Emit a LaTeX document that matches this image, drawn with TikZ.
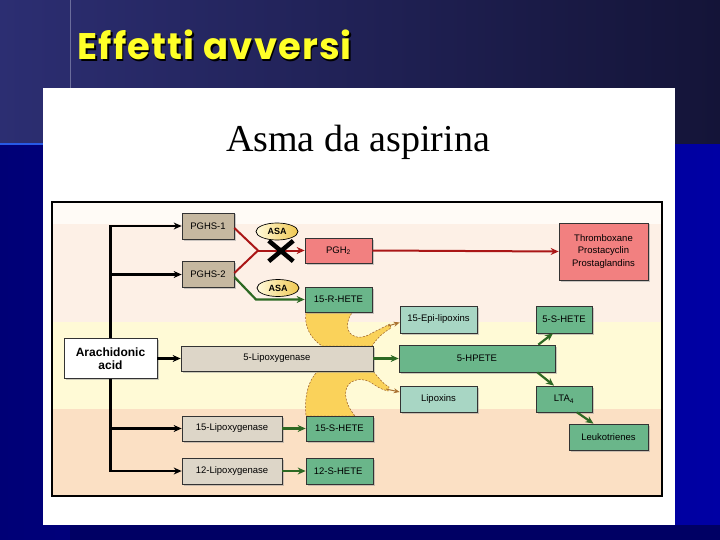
\documentclass[tikz,border=0pt]{standalone}
\usepackage{fontspec}
\setmainfont{Liberation Serif}
\newfontfamily\boxfont{Liberation Sans}
\newfontfamily\slidefont{Poppins}[LetterSpace=3]
\usetikzlibrary{arrows.meta,shapes.geometric,shapes.misc,shadows}
\definecolor{slidetop}{RGB}{44,46,114}
\definecolor{slidetopR}{RGB}{20,20,56}
\definecolor{slidelow}{RGB}{0,0,118}
\definecolor{slidelowR}{RGB}{0,0,164}
\definecolor{slidedeep}{RGB}{0,0,100}
\definecolor{slideline}{RGB}{40,90,230}
\definecolor{slideyellow}{RGB}{255,255,40}
\definecolor{bandtop}{RGB}{255,251,246}
\definecolor{bandpink}{RGB}{253,240,230}
\definecolor{bandyellow}{RGB}{255,250,214}
\definecolor{bandpeach}{RGB}{251,224,196}
\definecolor{tanfill}{RGB}{198,184,160}
\definecolor{greyfill}{RGB}{221,214,200}
\definecolor{redfill}{RGB}{242,128,128}
\definecolor{greenfill}{RGB}{106,182,138}
\definecolor{palefill}{RGB}{168,214,196}
\definecolor{redarrow}{RGB}{170,22,22}
\definecolor{greenarrow}{RGB}{45,105,35}
\definecolor{flowyellow}{RGB}{250,210,90}
\definecolor{flowedge}{RGB}{150,90,40}
\definecolor{asalight}{RGB}{255,250,220}
\definecolor{asadark}{RGB}{240,200,80}

\begin{document}
\begin{tikzpicture}[x=1pt, y=-1pt,
  box/.style={draw=black!80, line width=0.7pt, align=center, inner sep=1pt,
    font=\boxfont\fontsize{9.5}{12.5}\selectfont,
    drop shadow={shadow xshift=1.5pt, shadow yshift=-1.5pt, fill=black!40, opacity=0.5}},
  tanbox/.style={box, fill=tanfill},
  greybox/.style={box, fill=greyfill},
  redbox/.style={box, fill=redfill},
  greenbox/.style={box, fill=greenfill},
  palebox/.style={box, fill=palefill},
  blackline/.style={line width=2.4pt, -{Stealth[length=8pt,width=7pt]}},
  redline/.style={redarrow, line width=2pt},
  greenline/.style={greenarrow, line width=2.2pt},
  tip/.style={-{Stealth[length=8pt,width=7pt]}},
  asa/.style={ellipse, draw=black, line width=0.7pt, left color=asalight, right color=asadark,
    minimum width=42, minimum height=17, inner sep=0pt,
    font=\boxfont\bfseries\fontsize{9}{10}\selectfont}]
  \useasboundingbox (0,0) rectangle (720,540);

  % Slide
  \shade[left color=slidetop, right color=slidetopR] (0,0) rectangle (720,145);
  \shade[left color=slidelow, right color=slidelowR] (0,145) rectangle (720,540);
  \fill[slidedeep] (70,525) rectangle (720,540);
  \draw[slideline, line width=1.5pt] (0,144) -- (43,144);
  \draw[slidetop!70!white, line width=0.8pt] (70,0) -- (70,145);
  \fill[white] (43,88) rectangle (675,525);
  \node[text=black, font=\slidefont\bfseries\fontsize{37}{40}\selectfont, anchor=west]
    (titleshade) at (75.5,46.5) {Effetti avversi};
  \node[text=slideyellow, font=\slidefont\bfseries\fontsize{37}{40}\selectfont, anchor=west]
    (title) at (74,45) {Effetti avversi};
  \node[font=\fontsize{38}{40}\selectfont] (subtitle) at (358,142) {Asma da aspirina};

  % Bands
  \fill[bandtop] (52,202) rectangle (662,224);
  \fill[bandpink] (52,224) rectangle (662,322);
  \fill[bandyellow] (52,322) rectangle (662,409);
  \fill[bandpeach] (52,409) rectangle (662,496);
  \draw[line width=1.3pt] (52,202) rectangle (662,496);

  % Lipoxin flow
  \filldraw[fill=flowyellow, draw=flowedge, line width=0.5pt, dash pattern=on 2pt off 1.5pt]
    (306,312) -- (353,312) .. controls (347,318) and (345,330) .. (352,335)
    .. controls (357,339) and (366,337) .. (372,333)
    .. controls (380,329) and (386,326) .. (390,324) -- (391,328)
    .. controls (384,332) and (377,338) .. (372,346) -- (322,346)
    .. controls (310,338) and (304,326) .. (306,312) -- cycle;
  \filldraw[fill=flowyellow, draw=flowedge, line width=0.5pt, dash pattern=on 2pt off 1.5pt]
    (318,371) -- (373,371) .. controls (378,377) and (382,383) .. (389,387) -- (388,391)
    .. controls (382,390) and (376,386) .. (370,382)
    .. controls (360,377) and (348,380) .. (346,390)
    .. controls (344,400) and (350,410) .. (355,416) -- (306,416)
    .. controls (304,398) and (308,380) .. (318,371) -- cycle;

  % Boxes
  \foreach \name/\x/\y/\w/\h/\kind/\txt in {
    pghs1/208/226/52/26/tanbox/{PGHS-1},
    pghs2/208/274.5/52/26/tanbox/{PGHS-2},
    pgh2/338.5/250.5/67/25/redbox/{PGH\textsubscript{2}},
    thromb/603.5/251.5/89/57/redbox/{Thromboxane\\Prostacyclin\\Prostaglandins},
    rhete/338.5/299.5/67/25/greenbox/{15-R-HETE},
    epi/438.5/319.5/77/27/palebox/{15-Epi-lipoxins},
    shete/564/319.5/56/27/greenbox/{5-S-HETE},
    lox5/277/358.5/192/25/greybox/{5-Lipoxygenase},
    hpete/477/358.5/156/27/greenbox/{5-HPETE},
    lipox/438.5/399/77/26/palebox/{Lipoxins},
    lta4/564/399/56/26/greenbox/{LTA\textsubscript{4}},
    leuko/608.5/437/79/26/greenbox/{Leukotrienes},
    lox15/232/428.5/100/25/greybox/{15-Lipoxygenase},
    shete15/339.5/428.5/67/25/greenbox/{15-S-HETE},
    lox12/232/471/100/26/greybox/{12-Lipoxygenase},
    shete12/339.5/471/67/26/greenbox/{12-S-HETE}
  }{
    \node[\kind, minimum width=\w, minimum height=\h] (\name) at (\x,\y) {\txt};
  }
  \node[box, fill=white, minimum width=93, minimum height=40, inner sep=0pt,
    font=\boxfont\bfseries\fontsize{12}{13}\selectfont] (aa) at (110.5,358.5) {Arachidonic\\acid};

  % Arachidonic acid
  \draw[blackline] (aa.north) |- (pghs1.west);
  \draw[blackline] (aa.north) |- (pghs2.west);
  \draw[blackline] (aa.east) -- (lox5.west);
  \draw[blackline] (aa.south) |- (lox15.west);
  \draw[blackline] (aa.south) |- (lox12.west);

  % Cyclooxygenase
  \coordinate (fork) at (258,250.5);
  \coordinate (bend) at (256,299.5);
  \draw[redline] ([yshift=-2pt]pghs1.east) -- (fork);
  \draw[redline] ([yshift=1.5pt]pghs2.east) -- (fork);
  \draw[redline, tip] (fork) -- (pgh2.west);
  \draw[redline, tip] (pgh2.east) -- (thromb.west);
  \draw[greenline, tip] ([yshift=-2.5pt]pghs2.east) -- (bend) -- (rhete.west);
  \node[asa] (asa1) at (277,231.5) {ASA};
  \node[asa] (asa2) at (278,288) {ASA};
  \node[cross out, draw=black, line width=4.5pt, minimum width=20, minimum height=16,
    inner sep=0pt] (block) at (281,251) {};

  % Lipoxygenases
  \draw[greenline, tip] (lox5.east) -- (hpete.west);
  \draw[greenline, tip] ([xshift=-17pt]hpete.north east) -- ([xshift=-11pt]shete.south);
  \draw[greenline, tip] ([xshift=-18pt]hpete.south east) -- ([xshift=-10pt]lta4.north);
  \draw[greenline, tip] ([xshift=13pt]lta4.south) -- ([xshift=-15pt]leuko.north);
  \draw[greenline, tip] (lox15.east) -- (shete15.west);
  \draw[greenline, tip] (lox12.east) -- (shete12.west);
  \coordinate (tipU) at (388,326);
  \coordinate (tipL) at (386,389);
  \draw[flowedge!80!flowyellow, line width=1pt, -{Stealth[length=6pt,width=5pt]}]
    (tipU) -- ([yshift=-3pt]epi.west);
  \draw[flowedge!80!flowyellow, line width=1pt, -{Stealth[length=6pt,width=5pt]}]
    (tipL) -- ([yshift=7pt]lipox.west);
\end{tikzpicture}
\end{document}
